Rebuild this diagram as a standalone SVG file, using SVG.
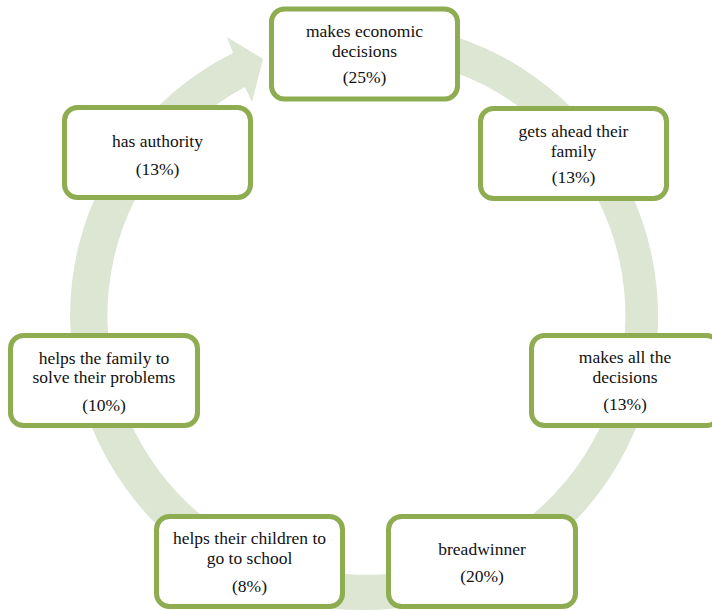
<svg xmlns="http://www.w3.org/2000/svg" width="712" height="610" viewBox="0 0 712 610">
<style>
.box{fill:#ffffff;stroke:#8eac50;stroke-width:5}
.t{font-family:"Liberation Serif","Times New Roman",serif;font-size:17.5px;fill:#111111;text-anchor:middle}
.ring{fill:#dce6d2;stroke:none}
</style>
<rect width="712" height="610" fill="#ffffff"/>
<g id="connectors">
<path class="ring" d="M 324.1 24.9 A 294 294 0 1 1 233 53 L 227 37 L 263 59 L 252 102 L 245 87 A 259 259 0 1 0 328.95 59.5 Z"/>
</g>
<g id="node-economic">
<rect class="box" x="271.5" y="9" width="186" height="90" rx="13"/>
<text class="t" x="364.5" y="37">makes economic</text>
<text class="t" x="364.5" y="57">decisions</text>
<text class="t" x="364.5" y="83">(25%)</text>
</g>
<g id="node-ahead">
<rect class="box" x="480.5" y="108.5" width="186" height="90" rx="13"/>
<text class="t" x="573.5" y="137">gets ahead their</text>
<text class="t" x="573.5" y="157">family</text>
<text class="t" x="573.5" y="183">(13%)</text>
</g>
<g id="node-all">
<rect class="box" x="531.5" y="335.5" width="188" height="90" rx="13"/>
<text class="t" x="625" y="363">makes all the</text>
<text class="t" x="625" y="383">decisions</text>
<text class="t" x="625" y="410">(13%)</text>
</g>
<g id="node-breadwinner">
<rect class="box" x="388.5" y="516.5" width="187" height="90" rx="13"/>
<text class="t" x="482" y="555">breadwinner</text>
<text class="t" x="482" y="582">(20%)</text>
</g>
<g id="node-school">
<rect class="box" x="156.5" y="516.5" width="186" height="90" rx="13"/>
<text class="t" x="249.5" y="544">helps their children to</text>
<text class="t" x="249.5" y="564">go to school</text>
<text class="t" x="249.5" y="592">(8%)</text>
</g>
<g id="node-family">
<rect class="box" x="10.5" y="335.5" width="187" height="90" rx="13"/>
<text class="t" x="104" y="364">helps the family to</text>
<text class="t" x="104" y="383">solve their problems</text>
<text class="t" x="104" y="411">(10%)</text>
</g>
<g id="node-authority">
<rect class="box" x="64.5" y="107.5" width="186" height="90" rx="13"/>
<text class="t" x="157.5" y="147">has authority</text>
<text class="t" x="157.5" y="175">(13%)</text>
</g>
</svg>
